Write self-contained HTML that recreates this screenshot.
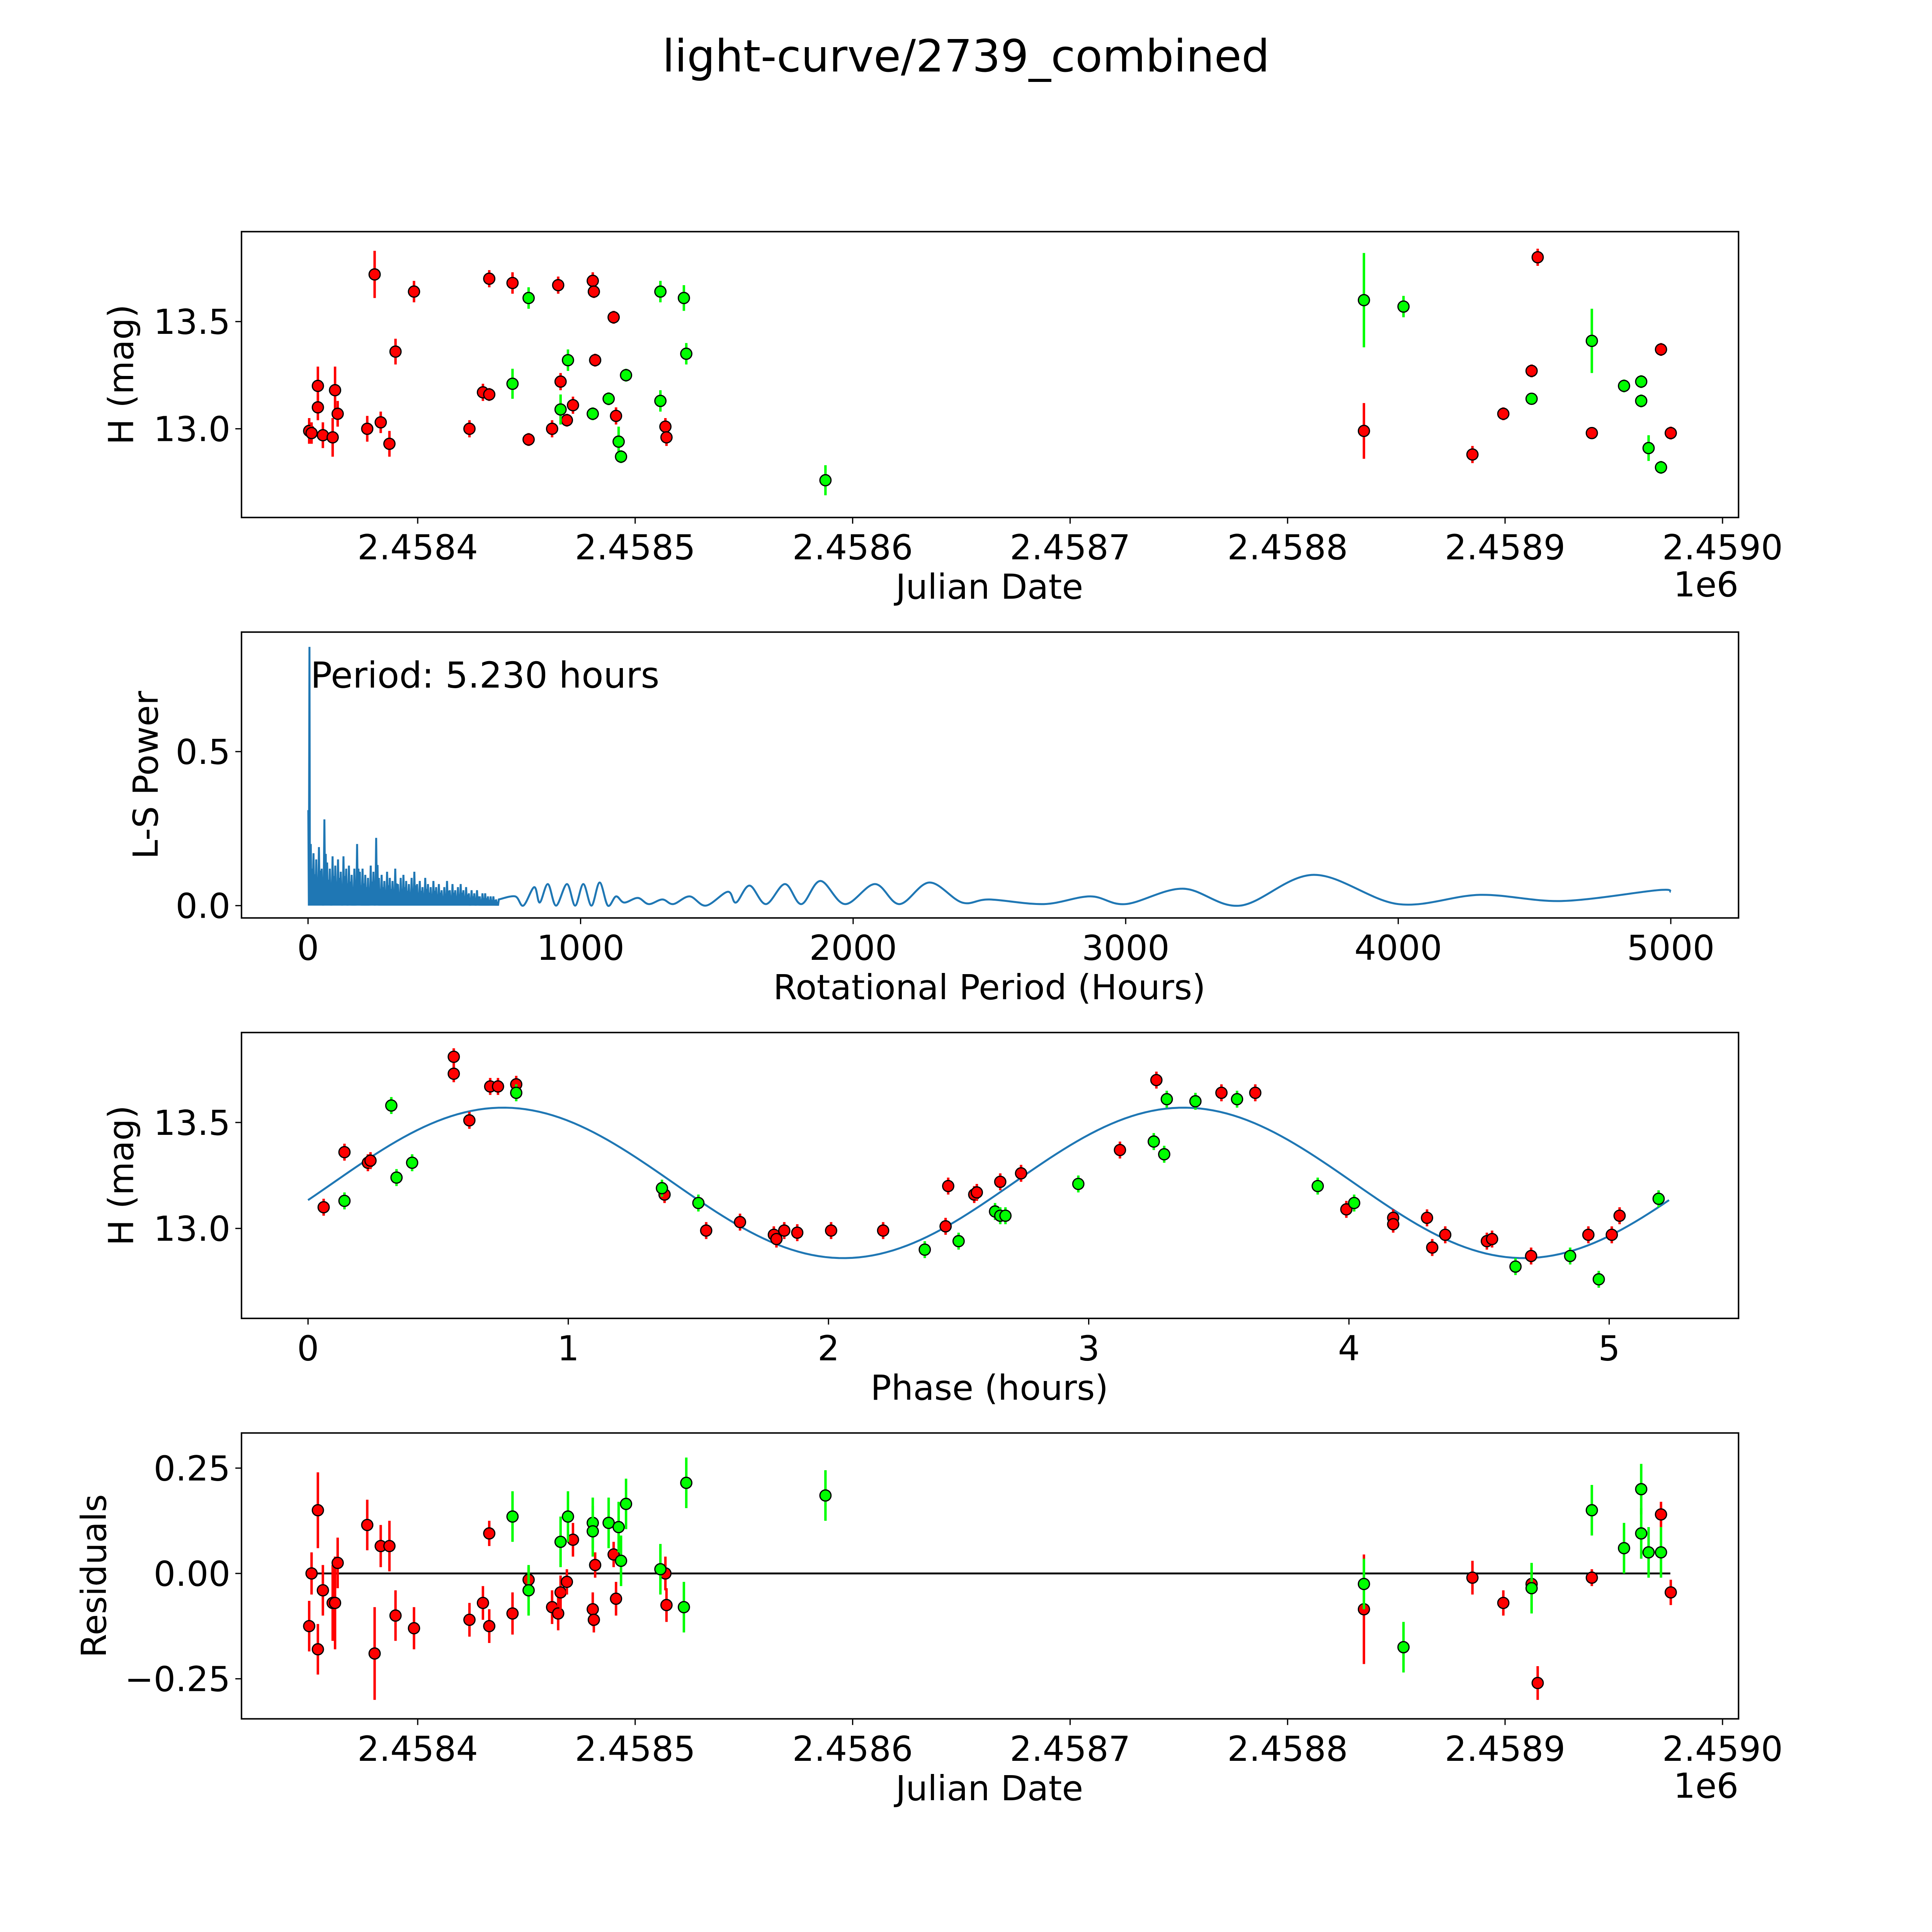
<!DOCTYPE html>
<html><head><meta charset="utf-8"><style>
html,body{margin:0;padding:0;background:#fff;overflow:hidden;width:100%;height:100%;}
svg{display:block;font-family:"DejaVu Sans","Liberation Sans",sans-serif;width:100vw;height:100vh;}
</style></head><body>
<svg id="fig" xmlns="http://www.w3.org/2000/svg" viewBox="0 0 1568 1568" preserveAspectRatio="xMidYMid meet">
<rect width="1568" height="1568" fill="#fff"/>
<text x="784" y="58" font-size="36" text-anchor="middle">light-curve/2739_combined</text>
</svg>
<script>
// ---- data (JD offsets = JD - 2458000) ----
const lcRedJD=[350.1,351.2,354.1,354.1,356.4,360.9,362.0,363.2,376.8,380.2,383.0,387.0,389.8,398.3,423.8,430.0,432.9,432.9,443.6,451.0,461.8,464.6,465.7,468.6,471.4,480.5,481.0,481.6,490.1,491.2,513.9,514.4,835.1,885.0,899.2,912.2,915.0,939.9,971.7,976.2];
const lcRedMag=[12.99,12.98,13.20,13.10,12.97,12.96,13.18,13.07,13.00,13.72,13.03,12.93,13.36,13.64,13.00,13.17,13.16,13.70,13.68,12.95,13.00,13.67,13.22,13.04,13.11,13.69,13.64,13.32,13.52,13.06,13.01,12.96,12.99,12.88,13.07,13.27,13.80,12.98,13.37,12.98];
const lcRedErr=[0.06,0.05,0.09,0.06,0.06,0.09,0.11,0.06,0.06,0.11,0.05,0.06,0.06,0.05,0.04,0.04,0.03,0.04,0.05,0.03,0.04,0.04,0.04,0.03,0.04,0.04,0.03,0.03,0.03,0.04,0.04,0.04,0.13,0.04,0.03,0.03,0.04,0.02,0.03,0.03];
const lcGreenJD=[443.6,451.0,465.7,469.1,480.5,487.8,492.4,493.5,495.8,511.6,511.6,522.4,523.5,587.5,835.1,853.3,912.2,939.9,954.7,962.6,962.6,966.0,971.7];
const lcGreenMag=[13.21,13.61,13.09,13.32,13.07,13.14,12.94,12.87,13.25,13.64,13.13,13.61,13.35,12.76,13.60,13.57,13.14,13.41,13.20,13.22,13.13,12.91,12.82];
const lcGreenErr=[0.07,0.05,0.07,0.05,0.03,0.03,0.07,0.03,0.03,0.05,0.05,0.06,0.05,0.07,0.22,0.05,0.02,0.15,0.03,0.03,0.03,0.06,0.03];
// periodogram
const pgSpikePeriod=[10,20,30,40,50,60,70,80,90,100,110,120,130,140,150,160,170,180,190,200,210,220,230,240,250,260,270,280,290,300,310,320,330,340,350,360,370,380,390,400,410,420,430,440,450,460,470,480,490,500,510,520,530,540,550,560,570,580,590,600,610,620,630,640,650,660,670,680,690];
const pgSpikePower=[0.2,0.17,0.15,0.19,0.12,0.28,0.14,0.12,0.16,0.13,0.15,0.11,0.16,0.12,0.13,0.10,0.12,0.2,0.11,0.12,0.10,0.09,0.13,0.11,0.22,0.09,0.10,0.08,0.11,0.09,0.08,0.12,0.07,0.09,0.10,0.08,0.07,0.09,0.11,0.07,0.08,0.06,0.09,0.07,0.06,0.08,0.06,0.07,0.05,0.06,0.08,0.05,0.07,0.05,0.06,0.07,0.05,0.06,0.04,0.05,0.04,0.05,0.03,0.04,0.04,0.03,0.03,0.03,0.02];
const pgSmoothPeriod=[700,760,790,830,850,880,910,950,980,1010,1040,1070,1100,1130,1160,1210,1250,1300,1340,1400,1460,1540,1570,1620,1680,1750,1810,1880,1970,2080,2170,2280,2400,2500,2700,2870,3000,3210,3420,3690,4000,4300,4600,4950,5000];
const pgSmoothPower=[0.02,0.03,0.0,0.06,0.01,0.07,0.0,0.07,0.0,0.07,0.0,0.075,0.0,0.03,0.01,0.025,0.005,0.02,0.005,0.03,0.0,0.045,0.01,0.065,0.005,0.07,0.005,0.08,0.005,0.07,0.005,0.075,0.01,0.02,0.005,0.03,0.005,0.055,0.0,0.10,0.005,0.035,0.015,0.05,0.045];
const bestPeriod=5.23, bestPower=0.84;
// phase
const phRedX=[0.06,0.14,0.23,0.24,0.56,0.56,0.62,0.70,0.73,0.80,1.37,1.53,1.66,1.79,1.80,1.83,1.88,2.01,2.21,2.45,2.46,2.56,2.57,2.66,2.74,3.12,3.26,3.51,3.64,3.99,4.17,4.17,4.30,4.32,4.37,4.53,4.55,4.70,4.92,5.01,5.04];
const phRedY=[13.10,13.36,13.31,13.32,13.81,13.73,13.51,13.67,13.67,13.68,13.16,12.99,13.03,12.97,12.95,12.99,12.98,12.99,12.99,13.01,13.20,13.16,13.17,13.22,13.26,13.37,13.70,13.64,13.64,13.09,13.05,13.02,13.05,12.91,12.97,12.94,12.95,12.87,12.97,12.97,13.06];
const phGreenX=[0.14,0.32,0.34,0.40,0.80,1.36,1.50,2.37,2.50,2.64,2.66,2.68,2.96,3.25,3.29,3.30,3.41,3.57,3.88,4.02,4.64,4.85,4.96,5.19];
const phGreenY=[13.13,13.58,13.24,13.31,13.64,13.19,13.12,12.90,12.94,13.08,13.06,13.06,13.21,13.41,13.35,13.61,13.60,13.61,13.20,13.12,12.82,12.87,12.76,13.14];
const fitMean=13.215, fitAmp=0.355, fitPhase0=0.75, fitPeriod=2.615;
// residuals
const resRedX=[350.1,351.2,354.1,354.1,356.4,360.9,362.0,363.2,376.8,380.2,383.0,387.0,389.8,398.3,423.8,430.0,432.9,432.9,443.6,451.0,461.8,464.6,465.7,468.6,471.4,480.5,481.0,481.6,490.1,491.2,513.9,514.4,835.1,885.0,899.2,912.2,915.0,939.9,971.7,976.2];
const resRedY=[-0.125,0,0.15,-0.18,-0.04,-0.07,-0.07,0.025,0.115,-0.19,0.065,0.065,-0.10,-0.13,-0.11,-0.07,0.095,-0.125,-0.095,-0.015,-0.08,-0.095,-0.045,-0.02,0.08,-0.085,-0.11,0.02,0.045,-0.06,0,-0.075,-0.085,-0.01,-0.07,-0.025,-0.26,-0.01,0.14,-0.045];
const resGreenX=[443.6,451.0,465.7,469.1,480.5,480.5,487.8,492.4,493.5,495.8,511.6,522.4,523.5,587.5,835.1,853.3,912.2,939.9,954.7,962.6,962.6,966.0,971.7];
const resGreenY=[0.135,-0.04,0.075,0.135,0.12,0.10,0.12,0.11,0.03,0.165,0.01,-0.08,0.215,0.185,-0.025,-0.175,-0.035,0.15,0.06,0.20,0.095,0.05,0.05];

const NS="http://www.w3.org/2000/svg";
const svg=document.getElementById('fig');
function mk(tag,attrs,parent){const e=document.createElementNS(NS,tag);for(const k in attrs)e.setAttribute(k,attrs[k]);(parent||svg).appendChild(e);return e;}
const L=196,R=1411,W=R-L,H=232;
function axesBox(top,name){const g=mk('g',{});return g;}
function frame(g,top){const r=mk('rect',{x:L,y:top,width:W,height:H,fill:'none',stroke:'#000','stroke-width':1.2},g);}
function xticks(g,top,vals,labels,sx){vals.forEach((v,i)=>{const x=sx(v);mk('line',{x1:x,x2:x,y1:top+H,y2:top+H+5,stroke:'#000'},g);const t=mk('text',{x:x,y:top+H+34,'font-size':28,'text-anchor':'middle'},g);t.textContent=labels[i];});}
function yticks(g,top,vals,labels,sy){vals.forEach((v,i)=>{const y=sy(v);mk('line',{x1:L-5,x2:L,y1:y,y2:y,stroke:'#000'},g);const t=mk('text',{x:L-9,y:y+10,'font-size':28,'text-anchor':'end'},g);t.textContent=labels[i];});}
function label(g,txt,x,y,rot,name){const t=mk('text',{x:x,y:y,'font-size':28,'text-anchor':'middle'},g);if(rot)t.setAttribute('transform','rotate(-90 '+x+' '+y+')');t.textContent=txt;return t;}
function pts(g,xs,ys,errs,col,sx,sy,errScale,name){xs.forEach((v,i)=>{const x=sx(v),y=sy(ys[i]);const e=errs?errs[i]:0.04;const el=mk('line',{x1:x,x2:x,y1:y-e*errScale,y2:y+e*errScale,stroke:col==='r'?'#ff0000':'#00ff00','stroke-width':2},g);const c=mk('circle',{cx:x,cy:y,r:4.5,fill:col==='r'?'#ff0000':'#00ff00',stroke:'#000','stroke-width':1},g);});}
const jdTicks=[400,500,600,700,800,900,1000],jdLabels=['2.4584','2.4585','2.4586','2.4587','2.4588','2.4589','2.4590'];
const sxJD=v=>339+(v-400)*1.765;

// Panel 1
{const top=188;const g=axesBox(top,'light-curve-panel');const sy=m=>348-(m-13)*174;
pts(g,lcRedJD,lcRedMag,lcRedErr,'r',sxJD,sy,174,'red-obs');pts(g,lcGreenJD,lcGreenMag,lcGreenErr,'g',sxJD,sy,174,'green-obs');
frame(g,top);xticks(g,top,jdTicks,jdLabels,sxJD);yticks(g,top,[13.0,13.5],['13.0','13.5'],sy);
label(g,'Julian Date',803,486,false,'x-axis-title');label(g,'H (mag)',108,304,true,'y-axis-title');
const o=mk('text',{x:1411,y:484,'font-size':28,'text-anchor':'end'},g);o.textContent='1e6';}

// Panel 2
{const top=513;const g=axesBox(top,'periodogram-panel');const sx=p=>250+p*0.2212;const sy=v=>735-v*250;
let d='M'+sx(1)+','+sy(0.31)+' L'+sx(3)+','+sy(0)+' L'+sx(bestPeriod)+','+sy(bestPower)+' L'+sx(7)+','+sy(0);
pgSpikePeriod.forEach((p,i)=>{d+=' L'+sx(p)+','+sy(pgSpikePower[i])+' L'+sx(p+3)+','+sy(0)+' L'+sx(p+5)+','+sy(pgSpikePower[i]*0.6)+' L'+sx(p+7)+','+sy(0);});
const P=pgSmoothPeriod.map((p,i)=>[sx(p),sy(pgSmoothPower[i])]);
d+=' L'+P[0][0]+','+P[0][1];
for(let i=0;i<P.length-1;i++){const p0=P[Math.max(0,i-1)],p1=P[i],p2=P[i+1],p3=P[Math.min(P.length-1,i+2)];
d+=' C'+(p1[0]+(p2[0]-p0[0])/6)+','+(p1[1]+(p2[1]-p0[1])/6)+' '+(p2[0]-(p3[0]-p1[0])/6)+','+(p2[1]-(p3[1]-p1[1])/6)+' '+p2[0]+','+p2[1];}
const ln=mk('path',{d:d,fill:'none',stroke:'#1f77b4','stroke-width':1.6},g);
frame(g,top);xticks(g,top,[0,1000,2000,3000,4000,5000],['0','1000','2000','3000','4000','5000'],sx);yticks(g,top,[0,0.5],['0.0','0.5'],sy);
label(g,'Rotational Period (Hours)',803,811,false,'x-axis-title');label(g,'L-S Power',128,629,true,'y-axis-title');
const a=mk('text',{x:252,y:558,'font-size':29},g);a.textContent='Period: 5.230 hours';}

// Panel 3
{const top=838;const g=axesBox(top,'phase-panel');const sx=p=>250+p*211.2;const sy=m=>997-(m-13)*172;
let d='';for(let i=0;i<=200;i++){const t=5.23*i/200;const m=fitMean+fitAmp*Math.cos(2*Math.PI*(t-fitPhase0)/fitPeriod);d+=(i?' L':'M')+sx(t)+','+sy(m);}
const c=mk('path',{d:d,fill:'none',stroke:'#1f77b4','stroke-width':1.6},g);
pts(g,phRedX,phRedY,null,'r',sx,sy,172,'red-phase');pts(g,phGreenX,phGreenY,null,'g',sx,sy,172,'green-phase');
frame(g,top);xticks(g,top,[0,1,2,3,4,5],['0','1','2','3','4','5'],sx);yticks(g,top,[13.0,13.5],['13.0','13.5'],sy);
label(g,'Phase (hours)',803,1136,false,'x-axis-title');label(g,'H (mag)',108,954,true,'y-axis-title');}

// Panel 4
{const top=1163;const g=axesBox(top,'residuals-panel');const sy=v=>1277-v*342;
const z=mk('line',{x1:sxJD(350),x2:sxJD(976),y1:sy(0),y2:sy(0),stroke:'#000','stroke-width':1.5},g);
pts(g,resRedX,resRedY,lcRedErr,'r',sxJD,sy,342,'red-residual');pts(g,resGreenX,resGreenY,null,'g',sxJD,sy,342*1.5,'green-residual');
frame(g,top);xticks(g,top,jdTicks,jdLabels,sxJD);yticks(g,top,[-0.25,0,0.25],['\u22120.25','0.00','0.25'],sy);
label(g,'Julian Date',803,1461,false,'x-axis-title');label(g,'Residuals',86,1279,true,'y-axis-title');
const o=mk('text',{x:1411,y:1459,'font-size':28,'text-anchor':'end'},g);o.textContent='1e6';}
</script>
</body></html>
